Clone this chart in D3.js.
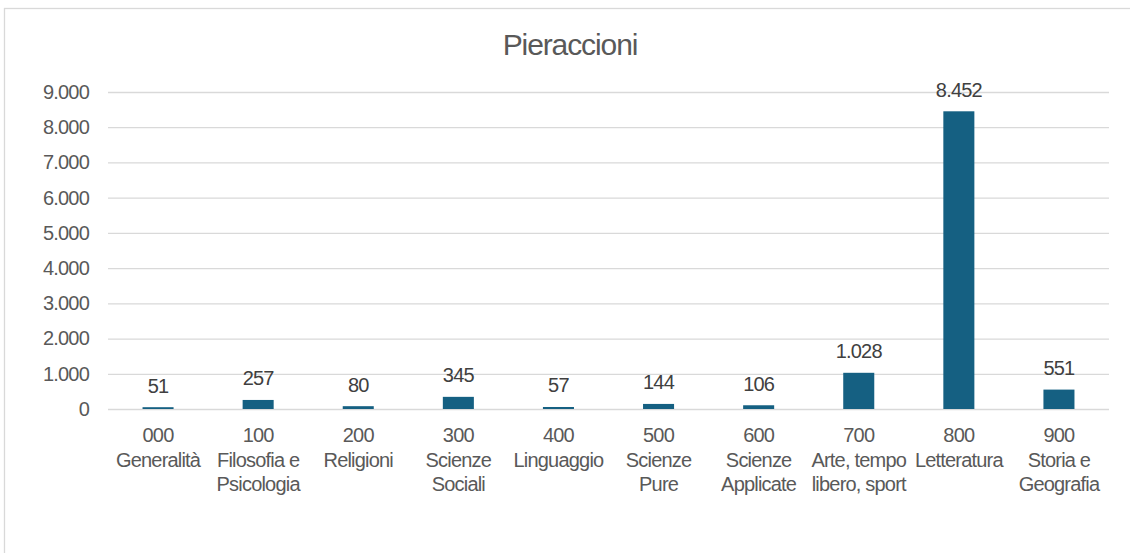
<!DOCTYPE html>
<html><head><meta charset="utf-8">
<script src="https://cdn.jsdelivr.net/npm/d3@7"></script>
<style>html,body{margin:0;padding:0;background:#fff;}svg{display:block;}</style>
</head><body>
<script>
const codes = ["000","100","200","300","400","500","600","700","800","900"];
const names = ["Generalità","Filosofia e\nPsicologia","Religioni","Scienze\nSociali","Linguaggio","Scienze\nPure","Scienze\nApplicate","Arte, tempo\nlibero, sport","Letteratura","Storia e\nGeografia"];
const values = [51,257,80,345,57,144,106,1028,8452,551];
const yTicks = [0,1000,2000,3000,4000,5000,6000,7000,8000,9000];
const title = "Pieraccioni";

const W = 1130, H = 553;
const fmt = v => d3.format(",")(v).replace(/,/g, ".");
const svg = d3.select("body").append("svg").attr("width", W).attr("height", H)
  .style("font-family", "Arial, 'Liberation Sans', sans-serif");

svg.append("rect").attr("x", 4.5).attr("y", 8.5).attr("width", W + 10).attr("height", H + 10)
  .attr("fill", "#fff").attr("stroke", "#d9d9d9").attr("stroke-width", 1.3);

const x = d3.scaleBand().domain(codes).range([108, 1109]).paddingInner(0.69).paddingOuter(0.345);
const y = d3.scaleLinear().domain([0, 9000]).range([409, 92]);

svg.append("text").attr("x", 570).attr("y", 55).attr("text-anchor", "middle")
  .attr("fill", "#595959").style("font-size", "30px").style("letter-spacing", "-1.1px").text(title);

const yAxis = svg.append("g").attr("transform", "translate(108,0)")
  .call(d3.axisLeft(y).tickValues(yTicks).tickSize(-1001).tickFormat(fmt).tickPadding(19));
yAxis.select(".domain").remove();
yAxis.selectAll(".tick line").attr("stroke", "#d9d9d9").attr("stroke-width", 1.3);
yAxis.selectAll(".tick text").attr("fill", "#595959").style("font-size", "20px")
  .style("letter-spacing", "-0.8px").style("font-family", "Arial, 'Liberation Sans', sans-serif");

svg.append("g").selectAll("rect").data(values).join("rect")
  .attr("x", (d, i) => x(codes[i])).attr("width", x.bandwidth())
  .attr("y", d => y(d)).attr("height", d => y(0) - y(d)).attr("fill", "#156082");

svg.append("g").selectAll("text").data(values).join("text")
  .attr("x", (d, i) => x(codes[i]) + x.bandwidth() / 2).attr("y", d => y(d) - 14.5)
  .attr("text-anchor", "middle").attr("fill", "#404040").style("font-size", "20px")
  .style("letter-spacing", "-0.8px").text(d => fmt(d));

const cat = svg.append("g").selectAll("text").data(codes).join("text")
  .attr("x", d => x(d) + x.bandwidth() / 2).attr("y", 442)
  .attr("text-anchor", "middle").attr("fill", "#595959").style("font-size", "20px")
  .style("letter-spacing", "-0.8px");
cat.each(function(d, i) {
  const lines = [d].concat(names[i].split("\n"));
  const t = d3.select(this);
  lines.forEach((l, k) => {
    t.append("tspan").attr("x", x(d) + x.bandwidth() / 2).attr("dy", k === 0 ? 0 : 24.5).text(l);
  });
});
</script>
</body></html>
